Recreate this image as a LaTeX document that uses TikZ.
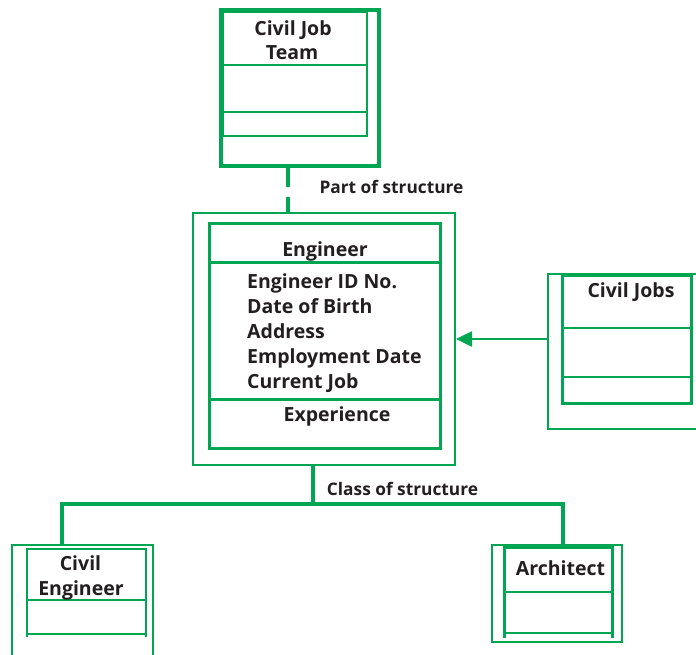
\documentclass[tikz,border=0pt]{standalone}
\usepackage{fontspec}
\setmainfont{Open Sans}
\usetikzlibrary{arrows.meta}
\definecolor{gr}{RGB}{0,166,81}
\definecolor{tx}{RGB}{35,31,32}
\tikzset{
  box/.style={draw=gr,line width=#1,inner sep=0pt,minimum width=0pt,minimum height=0pt},
  lbl/.style={text=tx,font=\bfseries\fontsize{19.5}{24}\selectfont,inner sep=0pt,anchor=base},
  linklbl/.style={lbl,font=\bfseries\fontsize{17.3}{22}\selectfont},
  link/.style={draw=gr,line width=3.5pt}
}

\begin{document}
\begin{tikzpicture}[x=1pt,y=-1pt]
            \useasboundingbox (0,0) rectangle (696,654);
            % Civil Job Team
            \node[box=4pt,minimum width=158pt,minimum height=156pt] (teamout) at (300,88) {};
            \draw[gr,line width=2.5pt] (223,12) rectangle (367,136);
            \draw[gr,line width=2pt] (223,65) -- (367,65) (223,112) -- (367,112);
            \node[lbl] (teamname) at (293,35) {Civil Job};
            \node[lbl] (teamname2) at (292,59) {Team};
            % Engineer
            \node[box=2pt,minimum width=262pt,minimum height=252pt] (engout) at (324,339) {};
            \draw[gr,line width=3pt] (209,223) rectangle (440,448);
            \draw[gr,line width=3pt] (209,262) -- (440,262) (209,399) -- (440,399);
            \node[lbl] (engname) at (325,256) {Engineer};
            \foreach \t [count=\i] in {Engineer ID No.,Date of Birth,Address,Employment Date,Current Job}
                \node[lbl,anchor=base west] (attr\i) at (247,{288+25.2*(\i-1)}) {\t};
            \node[lbl] (engexp) at (337,421) {Experience};
            % Civil Jobs
            \node[box=2pt,minimum width=154pt,minimum height=155pt] (jobsout) at (625,351.5) {};
            \draw[gr,line width=3pt] (562,275) rectangle (691,403);
            \draw[gr,line width=2pt] (562,328) -- (691,328) (562,377) -- (691,377);
            \node[lbl] (jobsname) at (631,297) {Civil Jobs};
            % Civil Engineer
            \node[box=2pt,minimum width=141pt,minimum height=130pt] (civout) at (82.5,610) {};
            \draw[gr,line width=2.5pt] (27,637) -- (27,549) -- (146,549) -- (146,637);
            \draw[gr,line width=2.5pt] (27,600) -- (146,600) (27,634) -- (146,634);
            \node[lbl] (civname) at (80.5,570) {Civil};
            \node[lbl] (civname2) at (81,595) {Engineer};
            % Architect
            \node[box=2pt,minimum width=130pt,minimum height=97pt] (archout) at (557,593.5) {};
            \draw[gr,line width=3pt] (504,638) -- (504,547) -- (612,547) -- (612,638);
            \draw[gr,line width=2.5pt] (504,592) -- (612,592);
            \draw[gr,line width=2pt] (504,633) -- (612,633);
            \node[lbl] (archname) at (560.5,575) {Architect};
            % connectors
            \coordinate (dashx) at (288,0);
            \draw[gr,line width=4pt,dash pattern=on 19pt off 10pt] (teamout.south -| dashx) -- (engout.north -| dashx);
            \node[linklbl] (partof) at (391.5,193) {Part of structure};
            \draw[gr,line width=2.5pt,-{Triangle[length=16pt,width=15pt]}] (jobsout.west |- 0,339) -- (engout.east |- 0,339);
            \coordinate (split) at (313,504);
            \draw[link] (engout.south -| split) -- (split);
            \draw[link] (civout.north -| 62,0) |- (split) -| (archout.north -| 563,0);
            \node[linklbl] (classof) at (402.5,495) {Class of structure};
        \end{tikzpicture}
\end{document}
